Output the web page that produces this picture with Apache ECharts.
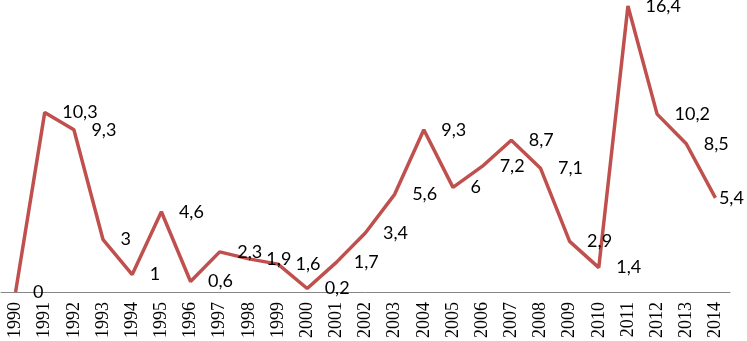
<!DOCTYPE html>
<html>
<head>
<meta charset="utf-8">
<script src="https://cdn.jsdelivr.net/npm/echarts@6/dist/echarts.min.js"></script>
<style>
  html, body { margin: 0; padding: 0; background: #fff; }
  #chart { width: 747px; height: 341px; }
</style>
</head>
<body>
<div id="chart"></div>
<script>
  // 年份
  const years = ['1990', '1991', '1992', '1993', '1994', '1995', '1996', '1997', '1998', '1999',
    '2000', '2001', '2002', '2003', '2004', '2005', '2006', '2007', '2008', '2009',
    '2010', '2011', '2012', '2013', '2014']
  // 数值
  const values = [0, 10.3, 9.3, 3, 1, 4.6, 0.6, 2.3, 1.9, 1.6,
    0.2, 1.7, 3.4, 5.6, 9.3, 6, 7.2, 8.7, 7.1, 2.9,
    1.4, 16.4, 10.2, 8.5, 5.4]

  const chart = echarts.init(document.getElementById('chart'))

  // 最后一个标签靠近右边缘，距离缩小
  const seriesData = values.map((v, i) =>
    i === values.length - 1 ? { value: v, label: { distance: 3 } } : v
  )

  const option = {
    animation: false,
    grid: {
      left: 1,
      right: 17,
      top: 6,
      bottom: 49,
    },
    xAxis: {
      type: 'category',
      data: years,
      boundaryGap: true,
      axisLine: { lineStyle: { color: '#868686', width: 1 } },
      axisTick: { show: false },
      axisLabel: {
        rotate: 90,
        margin: 10,
        color: '#000',
        fontFamily: 'Liberation Serif',
        fontSize: 18,
        interval: 0,
      },
    },
    yAxis: {
      type: 'value',
      min: 0,
      max: 16.4,
      show: false,
      splitLine: { show: false },
    },
    series: [
      {
        type: 'line',
        data: seriesData,
        showSymbol: true,
        symbol: 'circle',
        symbolSize: 1,
        itemStyle: { color: 'rgba(0,0,0,0)' },
        lineStyle: { color: '#C0504D', width: 3.5 },
        label: {
          show: true,
          position: 'right',
          distance: 17,
          color: '#000',
          fontFamily: 'Lato',
          fontSize: 18,
          formatter: (p) => String(p.value).replace('.', ','),
        },
      },
    ],
  }

  chart.setOption(option)
</script>
</body>
</html>
